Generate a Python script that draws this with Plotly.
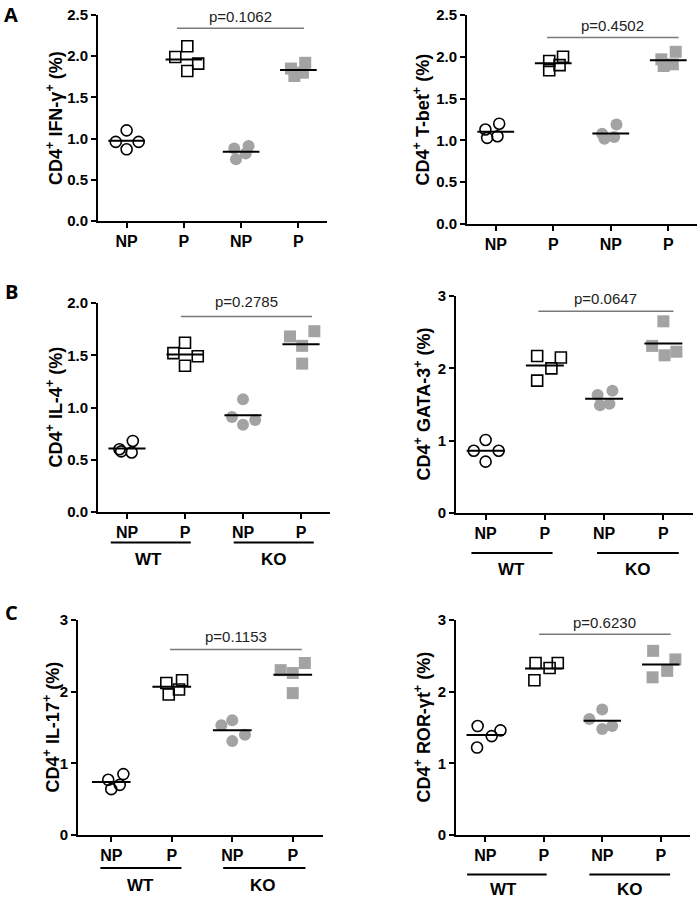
import numpy as np
import plotly.graph_objects as go

# ---------------- data ----------------
categories = ["NP", "P", "NP", "P"]
group_names = ["WT NP", "WT P", "KO NP", "KO P"]

# Panel A left: CD4+ IFN-g+
ifng_wt_np = [1.10, 0.96, 0.96, 0.87]
ifng_wt_p = [2.12, 1.99, 1.91, 1.82]
ifng_ko_np = [0.88, 0.91, 0.82, 0.75]
ifng_ko_p = [1.85, 1.92, 1.76, 1.80]
# Panel A right: CD4+ T-bet+
tbet_wt_np = [1.20, 1.13, 1.03, 1.05]
tbet_wt_p = [2.00, 1.95, 1.90, 1.84]
tbet_ko_np = [1.08, 1.19, 1.02, 1.04]
tbet_ko_p = [1.97, 2.06, 1.89, 1.91]
# Panel B left: CD4+ IL-4+
il4_wt_np = [0.68, 0.60, 0.57, 0.58]
il4_wt_p = [1.62, 1.52, 1.49, 1.40]
il4_ko_np = [1.08, 0.91, 0.88, 0.835]
il4_ko_p = [1.68, 1.73, 1.59, 1.42]
# Panel B right: CD4+ GATA-3+
gata3_wt_np = [1.01, 0.86, 0.86, 0.71]
gata3_wt_p = [2.17, 2.15, 2.00, 1.83]
gata3_ko_np = [1.63, 1.69, 1.49, 1.51]
gata3_ko_p = [2.65, 2.31, 2.18, 2.23]
# Panel C left: CD4+ IL-17+
il17_wt_np = [0.85, 0.77, 0.70, 0.64]
il17_wt_p = [2.16, 2.12, 2.03, 1.96]
il17_ko_np = [1.53, 1.60, 1.40, 1.31]
il17_ko_p = [2.40, 2.30, 2.26, 1.98]
# Panel C right: CD4+ ROR-gt+
rorgt_wt_np = [1.52, 1.46, 1.38, 1.22]
rorgt_wt_p = [2.40, 2.40, 2.33, 2.16]
rorgt_ko_np = [1.75, 1.62, 1.52, 1.48]
rorgt_ko_p = [2.57, 2.45, 2.29, 2.20]

p_values = ["p=0.1062", "p=0.4502", "p=0.2785", "p=0.0647", "p=0.1153", "p=0.6230"]
y_titles = [
    "CD4<sup>+</sup> IFN-γ<sup>+</sup> (%)",
    "CD4<sup>+</sup> T-bet<sup>+</sup> (%)",
    "CD4<sup>+</sup> IL-4<sup>+</sup> (%)",
    "CD4<sup>+</sup> GATA-3<sup>+</sup> (%)",
    "CD4<sup>+</sup> IL-17<sup>+</sup> (%)",
    "CD4<sup>+</sup> ROR-γt<sup>+</sup> (%)",
]
y_ticks = [
    [0, 0.5, 1.0, 1.5, 2.0, 2.5],
    [0, 0.5, 1.0, 1.5, 2.0, 2.5],
    [0, 0.5, 1.0, 1.5, 2.0],
    [0, 1, 2, 3],
    [0, 1, 2, 3],
    [0, 1, 2, 3],
]
y_tick_labels = [
    ["0.0", "0.5", "1.0", "1.5", "2.0", "2.5"],
    ["0.0", "0.5", "1.0", "1.5", "2.0", "2.5"],
    ["0.0", "0.5", "1.0", "1.5", "2.0"],
    ["0", "1", "2", "3"],
    ["0", "1", "2", "3"],
    ["0", "1", "2", "3"],
]
genotypes = ["WT", "KO"]

panel_data = [
    [ifng_wt_np, ifng_wt_p, ifng_ko_np, ifng_ko_p],
    [tbet_wt_np, tbet_wt_p, tbet_ko_np, tbet_ko_p],
    [il4_wt_np, il4_wt_p, il4_ko_np, il4_ko_p],
    [gata3_wt_np, gata3_wt_p, gata3_ko_np, gata3_ko_p],
    [il17_wt_np, il17_wt_p, il17_ko_np, il17_ko_p],
    [rorgt_wt_np, rorgt_wt_p, rorgt_ko_np, rorgt_ko_p],
]

# ---------------- layout / positions ----------------
W, H = 700, 904
# horizontal scatter offsets of each point (category units)
offsets = [
    [[0, -0.19, 0.21, 0], [0.06, -0.15, 0.25, 0.06], [-0.12, 0.13, 0.08, -0.09], [-0.13, 0.12, -0.07, 0.08]],
    [[0.06, -0.18, -0.15, 0.03], [0.17, -0.07, 0.11, -0.07], [-0.15, 0.10, -0.11, 0.06], [-0.12, 0.13, -0.08, 0.08]],
    [[0.10, -0.13, 0.08, -0.10], [0, -0.2, 0.22, 0], [0, -0.19, 0.21, 0], [-0.19, 0.23, 0.02, 0.02]],
    [[0, -0.2, 0.22, 0], [-0.13, 0.27, 0.11, -0.13], [-0.11, 0.14, -0.07, 0.09], [0, -0.19, 0.02, 0.22]],
    [[0.2, -0.05, 0.14, 0.0], [0.17, -0.09, 0.12, -0.05], [-0.18, 0, 0.21, 0], [0.2, -0.2, 0, 0]],
    [[-0.13, 0.26, 0.11, -0.14], [-0.14, 0.24, 0.10, -0.16], [0, -0.22, 0.17, 0], [-0.13, 0.25, 0.11, -0.14]],
]
# plot areas in pixels: (x0, x1, ytop, ybottom)
plot_px = [
    (98, 327, 15, 221),
    (467, 697, 15, 224),
    (98, 330, 303, 512),
    (456, 693, 296, 513),
    (78, 323, 620, 835),
    (456, 690, 620, 835),
]
x_ranges = [[-0.5, 3.5], [-0.5, 3.5], [-0.5, 3.5], [-0.5, 3.5], [-0.55, 3.5], [-0.5, 3.5]]
y_maxes = [2.5, 2.5, 2.0, 3.0, 3.0, 3.0]
# bracket (x0, x1, y line [data units], y text [px])
brackets = [
    (0.88, 3.1, 2.34, 16.5),
    (0.89, 3.18, 2.23, 26),
    (0.93, 3.19, 1.87, 301),
    (0.89, 3.17, 2.79, 298.5),
    (0.97, 3.15, 2.59, 636.5),
    (0.92, 3.17, 2.80, 622.5),
]
y_title_x = [55, 422, 55, 423, 52, 423]
# genotype group lines: (wt x0, wt x1, ko x0, ko x1, line y px, text y px, wt text x, ko text x)
group_lines = {
    2: (-0.28, 1.1, 1.84, 3.22, 542.5, 559, 0.37, 2.54),
    3: (-0.24, 1.13, 1.88, 3.26, 553, 569, 0.43, 2.58),
    4: (-0.18, 1.16, 1.85, 3.21, 868, 885, 0.49, 2.5),
    5: (-0.31, 1.05, 1.78, 3.16, 874.5, 889, 0.32, 2.47),
}
panel_letters = [("A", 11, 15), ("B", 11, 292), ("C", 11, 612)]

FONT = "Liberation Sans, Arial, sans-serif"
GRAY = "#a3a3a3"
marker_styles = [
    dict(symbol="circle-open", size=11, color="black", line=dict(width=1.6, color="black")),
    dict(symbol="square-open", size=11, color="black", line=dict(width=1.6, color="black")),
    dict(symbol="circle", size=12, color=GRAY, line=dict(width=0)),
    dict(symbol="square", size=12, color=GRAY, line=dict(width=0)),
]
mean_half = 0.32

fig = go.Figure()
annotations = []
shapes = []
layout_axes = {}

for i in range(6):
    xn = "x" if i == 0 else f"x{i+1}"
    yn = "y" if i == 0 else f"y{i+1}"
    x0p, x1p, ytp, ybp = plot_px[i]
    xdom = [x0p / W, x1p / W]
    ydom = [1 - ybp / H, 1 - ytp / H]
    xkey = "xaxis" if i == 0 else f"xaxis{i+1}"
    ykey = "yaxis" if i == 0 else f"yaxis{i+1}"
    layout_axes[xkey] = dict(
        domain=xdom, anchor=yn, range=x_ranges[i], automargin=False,
        tickvals=[0, 1, 2, 3], ticktext=categories,
        showline=True, linewidth=2, linecolor="black",
        ticks="outside", ticklen=5, tickwidth=2, tickcolor="black",
        showgrid=False, zeroline=False,
        tickfont=dict(family=FONT, size=16, color="black", weight="bold"),
    )
    layout_axes[ykey] = dict(
        domain=ydom, anchor=xn, range=[0, y_maxes[i]], automargin=False,
        tickvals=y_ticks[i], ticktext=y_tick_labels[i],
        showline=True, linewidth=2, linecolor="black",
        ticks="outside", ticklen=5, tickwidth=2, tickcolor="black",
        showgrid=False, zeroline=False,
        tickfont=dict(family=FONT, size=15, color="black", weight="bold"),
    )
    for g in range(4):
        vals = panel_data[i][g]
        xs = [g + o for o in offsets[i][g]]
        fig.add_trace(go.Scatter(
            x=xs, y=vals, mode="markers", xaxis=xn, yaxis=yn,
            marker=marker_styles[g], showlegend=False, name=group_names[g],
            cliponaxis=False,
        ))
        m = float(np.mean(vals))
        fig.add_trace(go.Scatter(
            x=[g - mean_half, g + mean_half], y=[m, m], mode="lines",
            xaxis=xn, yaxis=yn, line=dict(color="black", width=2),
            showlegend=False, hoverinfo="skip",
        ))
    bx0, bx1, by, bty = brackets[i]
    shapes.append(dict(type="line", xref=xn, yref=yn, x0=bx0, x1=bx1, y0=by, y1=by,
                       line=dict(color="#7a7a7a", width=1.5)))
    annotations.append(dict(xref=xn, yref="paper", x=(bx0 + bx1) / 2, y=1 - bty / H, text=p_values[i],
                            showarrow=False, xanchor="center", yanchor="middle",
                            font=dict(family=FONT, size=15, color="#222")))
    annotations.append(dict(xref="paper", yref="paper", x=y_title_x[i] / W,
                            y=(ydom[0] + ydom[1]) / 2, text=y_titles[i], textangle=-90,
                            showarrow=False, xanchor="center", yanchor="middle",
                            font=dict(family=FONT, size=18, color="black", weight="bold")))
    if i in group_lines:
        wx0, wx1, kx0, kx1, ly, ty, wtx, kox = group_lines[i]
        for (a, b) in [(wx0, wx1), (kx0, kx1)]:
            shapes.append(dict(type="line", xref=xn, yref="paper", x0=a, x1=b,
                               y0=1 - ly / H, y1=1 - ly / H,
                               line=dict(color="black", width=2)))
        for txt, tx in zip(genotypes, [wtx, kox]):
            annotations.append(dict(xref=xn, yref="paper", x=tx, y=1 - ty / H, text=txt,
                                    showarrow=False, xanchor="center", yanchor="middle",
                                    font=dict(family=FONT, size=17, color="black", weight="bold")))

for letter, lx, ly in panel_letters:
    annotations.append(dict(xref="paper", yref="paper", x=lx / W, y=1 - ly / H, text=letter,
                            showarrow=False, xanchor="center", yanchor="middle",
                            font=dict(family="Open Sans, sans-serif", size=20, color="black", weight="bold")))

fig.update_layout(
    width=W, height=H, autosize=False, margin=dict(l=0, r=0, t=0, b=0, pad=0, autoexpand=False),
    paper_bgcolor="white", plot_bgcolor="white",
    showlegend=False, annotations=annotations, shapes=shapes,
    **layout_axes,
)
fig.write_html(
    "out.html",
    config={"displayModeBar": False, "staticPlot": True},
    post_script="document.body.style.margin='0';document.body.style.padding='0';",
)
